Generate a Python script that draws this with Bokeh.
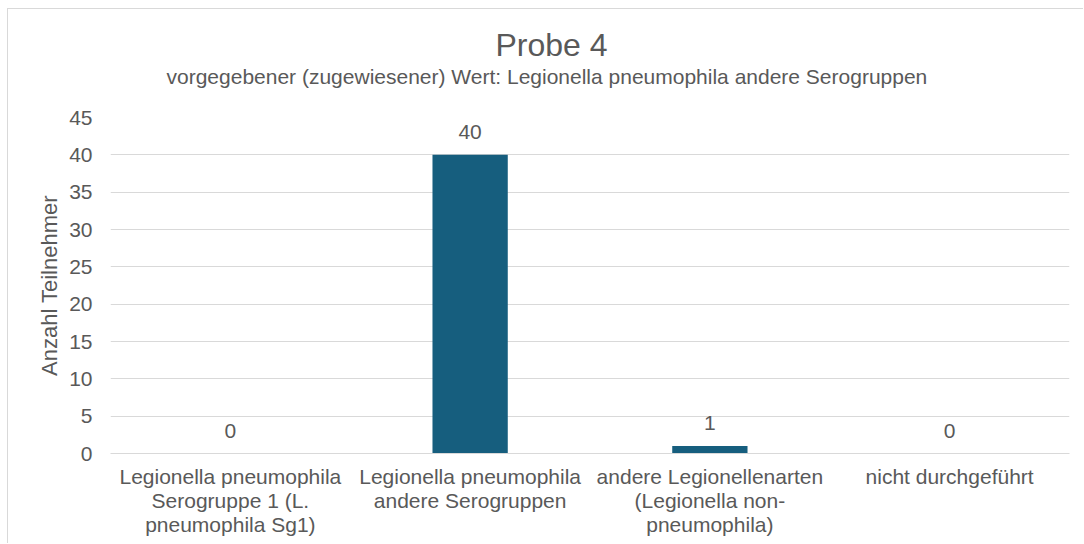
from bokeh.plotting import figure
from bokeh.models import (ColumnDataSource, FactorRange, Range1d, FixedTicker,
                          LabelSet, Title)
from bokeh.core.properties import value
from bokeh.embed import file_html
from bokeh.resources import INLINE

# ---- data ----
categories = [
    "Legionella pneumophila\nSerogruppe 1 (L.\npneumophila Sg1)",
    "Legionella pneumophila\nandere Serogruppen",
    "andere Legionellenarten\n(Legionella non-\npneumophila)",
    "nicht durchgeführt",
]
values = [0, 40, 1, 0]
y_ticks = [0, 5, 10, 15, 20, 25, 30, 35, 40, 45]
title_text = "Probe 4"
subtitle_text = "vorgegebener (zugewiesener) Wert: Legionella pneumophila andere Serogruppen"
y_label = "Anzahl Teilnehmer"

FONT = "Liberation Sans"
TXT = "#595959"
BAR = "#165E7E"
GRID = "#D9D9D9"
FS = "21px"

source = ColumnDataSource(data=dict(cat=categories, val=values,
                                    lbl=[str(v) for v in values]))

p = figure(
    width=1076, height=535,
    x_range=FactorRange(*categories),
    y_range=Range1d(0, 45),
    output_backend="svg", toolbar_location=None,
    min_border_left=102, min_border_right=15,
    min_border_top=108, min_border_bottom=91,
)
p.styles = {"margin-left": "7px", "margin-top": "8px",
            "border-top": f"1px solid {GRID}", "border-left": f"1px solid {GRID}"}
p.outline_line_color = None
p.background_fill_color = "white"
p.border_fill_color = "white"

p.vbar(x="cat", top="val", width=0.314, source=source,
       fill_color=BAR, line_color=None)

labels = LabelSet(x="cat", y="val", text="lbl", source=source,
                  text_align="center", text_baseline="bottom", y_offset=16,
                  text_font=value(FONT), text_font_size=value(FS), text_color=TXT)
p.add_layout(labels)

# axes
p.yaxis.ticker = FixedTicker(ticks=y_ticks)
p.yaxis.axis_label = y_label
p.yaxis.axis_label_text_font = FONT
p.yaxis.axis_label_text_font_size = "22px"
p.yaxis.axis_label_text_font_style = "normal"
p.yaxis.axis_label_text_color = TXT
p.yaxis.axis_label_standoff = 4
p.yaxis.major_label_text_font = FONT
p.yaxis.major_label_text_font_size = FS
p.yaxis.major_label_text_color = TXT
p.yaxis.major_label_standoff = 12
p.yaxis.axis_line_color = None
p.yaxis.major_tick_line_color = None
p.yaxis.minor_tick_line_color = None

p.xaxis.major_label_text_font = FONT
p.xaxis.major_label_text_font_size = FS
p.xaxis.major_label_text_color = TXT
p.xaxis.major_label_text_line_height = 1.05
p.xaxis.major_label_standoff = 5
p.xaxis.axis_line_color = GRID
p.xaxis.major_tick_line_color = None
p.xaxis.minor_tick_line_color = None

p.xgrid.grid_line_color = None
p.ygrid.grid_line_color = GRID
p.ygrid.grid_line_width = 1

# titles (first added is closest to the frame); a blank spacer sits below the subtitle
p.add_layout(Title(text=" ", standoff=17, text_font=FONT, text_font_size="10px"), "above")
p.add_layout(Title(text=subtitle_text, align="left", offset=56, standoff=0,
                   text_font=FONT, text_font_size=FS, text_font_style="normal",
                   text_color=TXT), "above")
p.add_layout(Title(text=title_text, align="left", offset=385, standoff=0,
                   text_font=FONT, text_font_size="32px", text_font_style="normal",
                   text_color=TXT), "above")

open("out.html", "w").write(file_html(p, INLINE))
